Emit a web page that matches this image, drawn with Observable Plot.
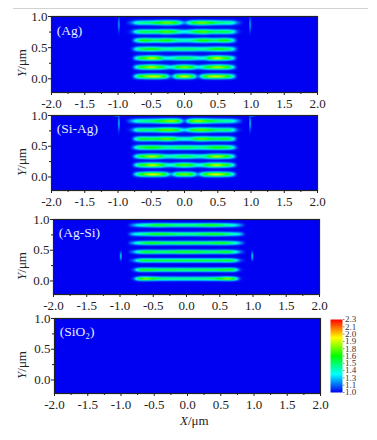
<!DOCTYPE html>
<html>
<head>
<meta charset="utf-8">
<script src="https://cdn.jsdelivr.net/npm/d3@7"></script>
<script src="https://cdn.jsdelivr.net/npm/@observablehq/plot@0.6"></script>
<style>
html,body{margin:0;padding:0;background:#fff;width:377px;height:440px;overflow:hidden}
.holder{position:absolute}
.lab{position:absolute;font-family:"Liberation Serif",serif;font-size:13px;color:#222;white-space:nowrap}
#rule{position:absolute;left:13px;top:8px;width:355px;height:1px;background:#d2d2d2}
</style>
</head>
<body>
<div id="rule"></div>
<script>
const xKnots = [-0.9,-0.8,-0.7,-0.6,-0.5,-0.4,-0.3,-0.2,-0.1,0,0.1,0.2,0.3,0.4,0.5,0.6,0.7,0.8,0.9];

const agCenters = [0.90,0.755,0.617,0.477,0.332,0.187,0.039];
const agRows = [
 [1,1.15,1.45,1.50,1.55,1.68,1.82,1.80,1.55,1.20,1.55,1.80,1.82,1.68,1.55,1.50,1.45,1.15,1],
 [1,1.10,1.50,1.60,1.58,1.60,1.78,1.72,1.50,1.38,1.50,1.72,1.78,1.60,1.58,1.60,1.50,1.10,1],
 [1,1.02,1.50,1.72,1.60,1.58,1.72,1.62,1.48,1.45,1.48,1.62,1.72,1.58,1.60,1.72,1.50,1.02,1],
 [1,1.05,1.48,1.62,1.68,1.60,1.50,1.50,1.55,1.55,1.55,1.50,1.50,1.60,1.68,1.62,1.48,1.05,1],
 [1,1.00,1.50,1.75,1.95,1.80,1.42,1.42,1.55,1.58,1.55,1.42,1.42,1.80,1.95,1.75,1.50,1.00,1],
 [1,1.00,1.50,1.80,1.92,1.80,1.55,1.35,1.70,1.85,1.70,1.35,1.55,1.80,1.92,1.80,1.50,1.00,1],
 [1,1.00,1.55,1.80,1.95,1.92,1.65,1.15,1.75,1.95,1.75,1.15,1.65,1.92,1.95,1.80,1.55,1.00,1]
];

const siAgCenters = [0.91,0.765,0.62,0.48,0.335,0.194,0.044];
const siAgRows = [
 [1,1.20,1.45,1.50,1.55,1.65,1.78,1.90,1.72,1.15,1.72,1.90,1.78,1.65,1.55,1.50,1.45,1.20,1],
 [1,1.10,1.50,1.55,1.55,1.65,1.80,1.80,1.60,1.30,1.60,1.80,1.80,1.65,1.55,1.55,1.50,1.10,1],
 [1,1.02,1.55,1.65,1.62,1.65,1.80,1.75,1.50,1.45,1.50,1.75,1.80,1.65,1.62,1.65,1.55,1.02,1],
 [1,1.05,1.50,1.65,1.70,1.65,1.55,1.52,1.58,1.60,1.58,1.52,1.55,1.65,1.70,1.65,1.50,1.05,1],
 [1,1.00,1.50,1.75,1.92,1.80,1.50,1.45,1.55,1.60,1.55,1.45,1.50,1.80,1.92,1.75,1.50,1.00,1],
 [1,1.00,1.50,1.75,1.95,1.85,1.55,1.40,1.65,1.78,1.65,1.40,1.55,1.85,1.95,1.75,1.50,1.00,1],
 [1,1.00,1.50,1.80,1.98,1.92,1.65,1.20,1.70,1.82,1.70,1.20,1.65,1.92,1.98,1.80,1.50,1.00,1]
];

const agSiCenters = [0.908,0.763,0.618,0.473,0.334,0.182,0.037];
const agSiRows = [
 [1,1.20,1.40,1.50,1.62,1.68,1.62,1.58,1.55,1.55,1.55,1.60,1.65,1.68,1.60,1.50,1.40,1.20,1],
 [1,1.30,1.45,1.55,1.65,1.68,1.65,1.60,1.55,1.55,1.55,1.60,1.65,1.68,1.65,1.55,1.45,1.30,1],
 [1,1.25,1.50,1.62,1.68,1.62,1.58,1.58,1.60,1.60,1.60,1.58,1.58,1.62,1.68,1.62,1.50,1.25,1],
 [1,1.20,1.52,1.65,1.62,1.58,1.60,1.62,1.68,1.68,1.68,1.62,1.60,1.58,1.62,1.65,1.52,1.20,1],
 [1,1.15,1.55,1.65,1.60,1.62,1.62,1.62,1.62,1.62,1.62,1.62,1.62,1.62,1.60,1.65,1.55,1.15,1],
 [1,1.10,1.62,1.68,1.65,1.60,1.62,1.62,1.60,1.60,1.60,1.62,1.62,1.60,1.65,1.68,1.62,1.10,1],
 [1,1.10,1.70,1.85,1.68,1.58,1.55,1.52,1.52,1.52,1.52,1.52,1.55,1.58,1.68,1.85,1.70,1.10,1]
];

// stripe half-thickness in each panel (y units)
const stripeWidths = [0.034,0.034,0.029,0.03];

// small spots beside the stripes: x, y, x spread, y spread, peak
const agGlints = [[-0.99,0.87,0.007,0.11,1.45],[0.99,0.87,0.007,0.11,1.45]];
const siAgGlints = [[-0.99,0.87,0.007,0.11,1.55],[0.99,0.87,0.007,0.11,1.55],[-1.02,0.995,0.035,0.006,1.3],[1.02,0.995,0.035,0.006,1.3]];
const agSiGlints = [[-0.99,0.405,0.008,0.06,1.6],[0.99,0.405,0.008,0.06,1.6]];

const panelNames = ["(Ag)","(Si-Ag)","(Ag-Si)","(SiO₂)"];
const panelLefts = [51,51,53,54];
const panelTops = [16,115,219,318];
const panelWidths = [266,266,266,266];
const panelHeights = [76,75,75,75];

const xDomain = [-2,2];
const yDomain = [-0.22,1];
const xMajor = [-2,-1.5,-1,-0.5,0,0.5,1,1.5,2];
const xMinor = [-1.75,-1.25,-0.75,-0.25,0.25,0.75,1.25,1.75];
const yMajor = [0,0.5,1];
const yMinor = [0.25,0.75];

const colorStops = [1,1.325,1.65,1.975,2.3];
const colorHex = ["#0000f2","#00ffff","#00ff00","#ffff00","#ff0000"];
const barPositions = [1,1.13,1.26,1.39,1.52,1.65,1.78,1.91,2.04,2.17,2.3];
const barLabels = ["1.0","1.1","1.3","1.4","1.5","1.6","1.8","1.9","2.0","2.1","2.3"];

const font = '"Liberation Serif", serif';
const colorOpt = {type:"linear",domain:colorStops,range:colorHex,clamp:true};
const M = {l:46,r:26,t:4,b:22};

// read a stripe between its knots (Catmull-Rom through the read values)
function rowAt(row,x){
  const step=xKnots[1]-xKnots[0];
  const t=(x-xKnots[0])/step;
  if(t<=0||t>=row.length-1) return 1;
  const i=Math.floor(t),u=t-i;
  const p0=row[Math.max(i-1,0)],p1=row[i],p2=row[i+1],p3=row[Math.min(i+2,row.length-1)];
  return Math.max(1,p1+0.5*u*(p2-p0+u*(2*p0-5*p1+4*p2-p3+u*(3*(p1-p2)+p3-p0))));
}
function field(centers,rows,glints,sw){
  return (x,y)=>{
    let v=1;
    rows.forEach((row,i)=>{
      const d=(y-centers[i])/sw;
      if(Math.abs(d)<4) v+=(rowAt(row,x)-1)*Math.exp(-d*d);
    });
    for(const [gx,gy,sx,sy,p] of glints){
      const a=(x-gx)/sx,b=(y-gy)/sy;
      v+=(p-1)*Math.exp(-a*a-b*b);
    }
    return v;
  };
}

const fields = [
  field(agCenters,agRows,agGlints,stripeWidths[0]),
  field(siAgCenters,siAgRows,siAgGlints,stripeWidths[1]),
  field(agSiCenters,agSiRows,agSiGlints,stripeWidths[2]),
  field([],[],[],stripeWidths[3])
];

panelNames.forEach((name,i)=>{
  const w=panelWidths[i],h=panelHeights[i];
  const chart=Plot.plot({
    width:w+M.l+M.r,height:h+M.t+M.b,
    marginLeft:M.l,marginRight:M.r,marginTop:M.t,marginBottom:M.b,
    style:{background:"transparent",fontFamily:font,overflow:"visible"},
    x:{domain:xDomain},y:{domain:yDomain},color:colorOpt,
    marks:[
      Plot.frame({fill:colorHex[0],stroke:null}),
      Plot.raster({fill:fields[i],pixelSize:1,x1:xDomain[0],x2:xDomain[1],y1:yDomain[0],y2:yDomain[1]}),
      Plot.frame({stroke:"#222",strokeWidth:1.2}),
      Plot.axisX({ticks:xMajor,tickSize:3,tickPadding:3,label:null,tickFormat:d=>d.toFixed(1),fontSize:13,fill:"#222",stroke:"#222"}),
      Plot.axisX({ticks:xMinor,tickSize:2,label:null,tickFormat:()=>"",stroke:"#222"}),
      Plot.axisY({ticks:yMajor,tickSize:3,tickPadding:1,label:null,tickFormat:d=>d.toFixed(1),fontSize:13,fill:"#222",stroke:"#222"}),
      Plot.axisY({ticks:yMinor,tickSize:2,label:null,tickFormat:()=>"",stroke:"#222"}),
      Plot.text([name],{x:()=>-1.92,y:()=>0.78,text:d=>d,textAnchor:"start",fill:"#e8ecff",fontSize:13.5})
    ]
  });
  chart.querySelectorAll("image").forEach(im=>{im.style.filter="blur(0.5px)";});
  const div=document.createElement("div");
  div.className="holder";
  div.style.left=(panelLefts[i]-M.l)+"px";
  div.style.top=(panelTops[i]-M.t)+"px";
  div.appendChild(chart);
  document.body.appendChild(div);

  const yl=document.createElement("div");
  yl.className="lab";
  yl.innerHTML="<i>Y</i>/μm";
  yl.style.left="22px";
  yl.style.top=(panelTops[i]+46.5)+"px";
  yl.style.transform="translate(-50%,-50%) rotate(-90deg)";
  document.body.appendChild(yl);
});

// colour bar
const barPts=[];
for(const x of [0,1]) for(const v of [colorStops[0],colorStops[4]]) barPts.push({x,y:v,v});
const bar=Plot.plot({
  width:12+2+20,height:73+4,
  marginLeft:2,marginRight:20,marginTop:2,marginBottom:2,
  style:{background:"transparent",fontFamily:font,overflow:"visible"},
  x:{domain:[0,1],axis:null},
  y:{domain:[colorStops[0],colorStops[4]]},
  color:colorOpt,
  marks:[
    Plot.raster(barPts,{x:"x",y:"y",fill:"v",interpolate:"barycentric",pixelSize:1,x1:0,x2:1,y1:colorStops[0],y2:colorStops[4]}),
    Plot.axisY({anchor:"right",ticks:barPositions,tickSize:1.5,tickPadding:1,label:null,tickFormat:d=>barLabels[barPositions.indexOf(d)],fontSize:9,fill:"#333",stroke:"#888"})
  ]
});
const bd=document.createElement("div");
bd.className="holder";
bd.style.left="328px";bd.style.top="317px";
bd.appendChild(bar);
document.body.appendChild(bd);

const xl=document.createElement("div");
xl.className="lab";
xl.innerHTML="<i>X</i>/μm";
xl.style.left="180px";xl.style.top="413px";
document.body.appendChild(xl);
</script>
</body>
</html>
